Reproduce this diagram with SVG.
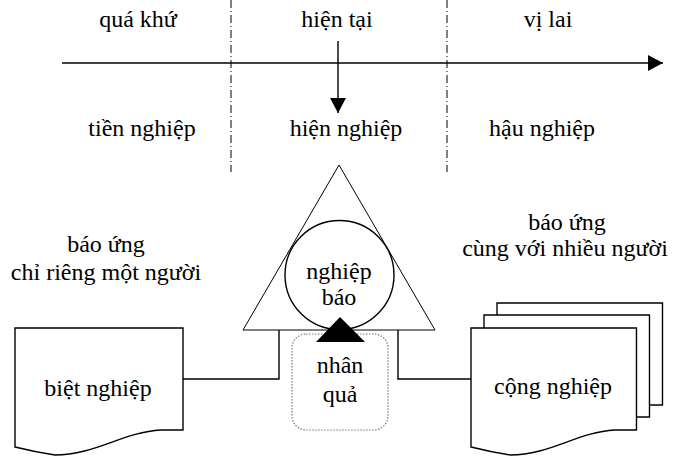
<svg xmlns="http://www.w3.org/2000/svg" width="673" height="457" viewBox="0 0 673 457">
<style>
text{font-family:"Liberation Serif","Times New Roman",serif;font-size:24px;fill:#000;text-anchor:middle}
.ln{fill:none;stroke:#000;stroke-width:1.4}
.thin{fill:none;stroke:#000;stroke-width:1}
.dash{fill:none;stroke:#000;stroke-width:1;stroke-dasharray:8 3 1 3}
.doc{fill:#fff;stroke:#000;stroke-width:1.4}
</style>
<defs>
<marker id="ah" markerWidth="16" markerHeight="16" refX="15" refY="8" orient="auto" markerUnits="userSpaceOnUse">
<path d="M0,0 L15,8 L0,16 Z" fill="#000"/>
</marker>
<path id="docshape" d="M0,0 H168 V102 H146 C108,104 80,127 40,127 Q20,124 0,119 Z"/>
</defs>
<g id="timeline">
<line class="dash" x1="231" y1="0" x2="231" y2="172"/>
<line class="dash" x1="447" y1="0" x2="447" y2="172"/>
<line class="ln" x1="62" y1="63" x2="663" y2="63" marker-end="url(#ah)"/>
<line class="ln" x1="338" y1="41" x2="338" y2="113" marker-end="url(#ah)"/>
<text x="138" y="27">quá khứ</text>
<text x="337" y="27">hiện tại</text>
<text x="548" y="27">vị lai</text>
<text x="142" y="136">tiền nghiệp</text>
<text x="346" y="136">hiện nghiệp</text>
<text x="542" y="136">hậu nghiệp</text>
</g>
<g id="connectors">
<path class="ln" d="M183,379 H279 V330"/>
<path class="ln" d="M398,330 V379 H471"/>
</g>
<g id="nghiep-bao">
<path class="thin" d="M339,165 L243,330 L435,330 Z" fill="#fff"/>
<circle class="ln" cx="339.5" cy="275" r="54.5"/>
<text x="339" y="279">nghiệp</text>
<text x="339" y="305">báo</text>
</g>
<g id="nhan-qua">
<rect x="292" y="334" width="96" height="96" rx="14" fill="none" stroke="#777" stroke-width="1.2" stroke-dasharray="1.5 1.5"/>
<path d="M340,317 L316,342 L365,342 Z" fill="#000"/>
<text x="340" y="373">nhân</text>
<text x="340" y="402">quả</text>
</g>
<g id="biet-nghiep">
<use href="#docshape" class="doc" transform="translate(15,328)"/>
<text x="98" y="396">biệt nghiệp</text>
<text x="106" y="252">báo ứng</text>
<text x="106" y="280">chỉ riêng một người</text>
</g>
<g id="cong-nghiep">
<use href="#docshape" class="doc" transform="translate(497,303) scale(0.985,1)"/>
<use href="#docshape" class="doc" transform="translate(484,315) scale(0.985,1)"/>
<use href="#docshape" class="doc" transform="translate(471,328) scale(0.985,1)"/>
<text x="553" y="394">cộng nghiệp</text>
<text x="567" y="230">báo ứng</text>
<text x="565" y="256">cùng với nhiều người</text>
</g>
</svg>
